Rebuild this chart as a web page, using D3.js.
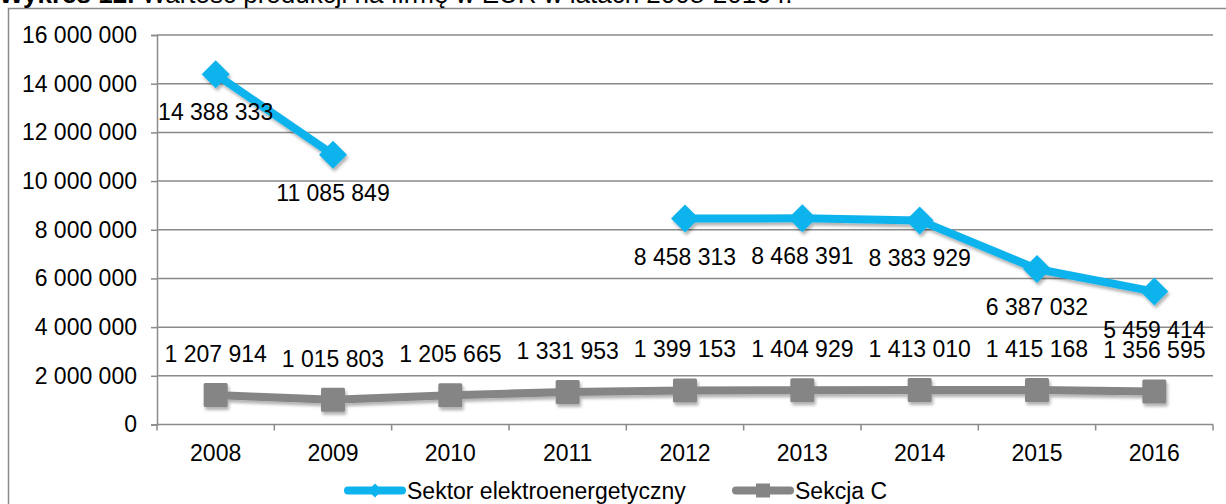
<!DOCTYPE html>
<html>
<head>
<meta charset="utf-8">
<script src="https://cdn.jsdelivr.net/npm/d3@7"></script>
<style>
  html, body { margin: 0; padding: 0; background: #fff; }
  svg { display: block; font-family: "Liberation Sans", Arial, sans-serif; }
</style>
</head>
<body>
<svg id="chart" width="1226" height="504"></svg>
<script>
// Production value per company (EUR), 2008–2016
const years = ["2008", "2009", "2010", "2011", "2012", "2013", "2014", "2015", "2016"];
const sektorValues = [14388333, 11085849, null, null, 8458313, 8468391, 8383929, 6387032, 5459414];
const sekcjaValues = [1207914, 1015803, 1205665, 1331953, 1399153, 1404929, 1413010, 1415168, 1356595];
const yTicks = [0, 2000000, 4000000, 6000000, 8000000, 10000000, 12000000, 14000000, 16000000];
const seriesNames = ["Sektor elektroenergetyczny", "Sekcja C"];

const BLUE = "#0db3ec";
const GREY = "#858585";
const GRID = "#8a8a8a";
const FONT = 23;

const svg = d3.select("#chart");

// soft shadow for lines and markers
const defs = svg.append("defs");
const f = defs.append("filter").attr("id", "shadow")
  .attr("x", "-20%").attr("y", "-20%").attr("width", "140%").attr("height", "160%");
f.append("feDropShadow").attr("dx", 1.5).attr("dy", 3).attr("stdDeviation", 1.8)
  .attr("flood-color", "#000").attr("flood-opacity", 0.3);

// outer frame
svg.append("rect").attr("x", 8.5).attr("y", 8.5).attr("width", 1240).attr("height", 520)
  .attr("fill", "none").attr("stroke", GRID).attr("stroke-width", 1.5);

// title (upper part sits above the canvas)
const title = svg.append("text").attr("x", -1).attr("y", 3)
  .attr("font-size", 26).attr("fill", "#000");
title.append("tspan").attr("font-weight", "bold").text("Wykres 12. ");
title.append("tspan").text("Wartość produkcji na firmę w EUR w latach 2008-2016 r.");

const plot = { left: 157, right: 1213, top: 35, bottom: 424.5 };

const x = d3.scaleBand().domain(years).range([plot.left, plot.right]).padding(0);
const y = d3.scaleLinear().domain([0, 16000000]).range([plot.bottom, plot.top]);
const cx = d => x(d) + x.bandwidth() / 2;
const fmt = v => d3.format(",")(v).replace(/,/g, " ");

// gridlines
svg.append("g").selectAll("line").data(yTicks.filter(t => t > 0)).join("line")
  .attr("x1", plot.left).attr("x2", plot.right)
  .attr("y1", d => y(d)).attr("y2", d => y(d))
  .attr("stroke", GRID).attr("stroke-width", 1.5);

// y axis
const yAxis = svg.append("g").attr("transform", `translate(${plot.left},0)`)
  .call(d3.axisLeft(y).tickValues(yTicks).tickSize(6).tickPadding(14).tickFormat(fmt));
yAxis.select(".domain").attr("stroke", GRID).attr("stroke-width", 1.5);
yAxis.selectAll(".tick line").attr("stroke", GRID).attr("stroke-width", 1.5);
yAxis.selectAll(".tick text").attr("font-size", FONT).attr("fill", "#000")
  .attr("font-family", "Liberation Sans, Arial, sans-serif");

// x axis with ticks at category boundaries
const bounds = years.map(d => x(d)).concat([plot.right]);
svg.append("line").attr("x1", plot.left).attr("x2", plot.right)
  .attr("y1", plot.bottom).attr("y2", plot.bottom)
  .attr("stroke", GRID).attr("stroke-width", 1.5);
svg.append("g").selectAll("line").data(bounds).join("line")
  .attr("x1", d => d).attr("x2", d => d)
  .attr("y1", plot.bottom).attr("y2", plot.bottom + 6)
  .attr("stroke", GRID).attr("stroke-width", 1.5);
svg.append("g").selectAll("text").data(years).join("text")
  .attr("x", d => cx(d)).attr("y", 461)
  .attr("text-anchor", "middle").attr("font-size", FONT).text(d => d);

// lines
const lineGen = d3.line()
  .defined(d => d.v != null)
  .x(d => cx(d.year)).y(d => y(d.v));

const sektor = years.map((year, i) => ({ year, v: sektorValues[i] }));
const sekcja = years.map((year, i) => ({ year, v: sekcjaValues[i] }));

const gSekcja = svg.append("g").attr("filter", "url(#shadow)");
gSekcja.append("path").attr("d", lineGen(sekcja))
  .attr("fill", "none").attr("stroke", GREY).attr("stroke-width", 8)
  .attr("stroke-linejoin", "round");
gSekcja.selectAll("rect").data(sekcja).join("rect")
  .attr("x", d => cx(d.year) - 12).attr("y", d => y(d.v) - 12)
  .attr("width", 24).attr("height", 24).attr("rx", 1.5)
  .attr("fill", GREY);

const gSektor = svg.append("g").attr("filter", "url(#shadow)");
gSektor.append("path").attr("d", lineGen(sektor))
  .attr("fill", "none").attr("stroke", BLUE).attr("stroke-width", 8)
  .attr("stroke-linejoin", "round");
gSektor.selectAll("path.m").data(sektor.filter(d => d.v != null)).join("path")
  .attr("class", "m")
  .attr("d", d => {
    const px = cx(d.year), py = y(d.v), r = 14;
    return `M${px},${py - r}L${px + r},${py}L${px},${py + r}L${px - r},${py}Z`;
  })
  .attr("fill", BLUE);

// data labels
svg.append("g").selectAll("text").data(sekcja).join("text")
  .attr("x", d => cx(d.year)).attr("y", d => y(d.v) - 33)
  .attr("text-anchor", "middle").attr("font-size", FONT).text(d => fmt(d.v));

svg.append("g").selectAll("text").data(sektor.filter(d => d.v != null)).join("text")
  .attr("x", d => cx(d.year)).attr("y", d => y(d.v) + 46)
  .attr("text-anchor", "middle").attr("font-size", FONT).text(d => fmt(d.v));

// legend
const legend = svg.append("g");
const legendItems = [
  { name: seriesNames[0], color: BLUE, x: 345, shape: "diamond" },
  { name: seriesNames[1], color: GREY, x: 733, shape: "square" }
];
legendItems.forEach(it => {
  const ly = 490.5;
  legend.append("line").attr("x1", it.x + 3).attr("x2", it.x + 57)
    .attr("y1", ly).attr("y2", ly)
    .attr("stroke", it.color).attr("stroke-width", 8).attr("stroke-linecap", "round");
  if (it.shape === "diamond") {
    const r = 7, px = it.x + 30;
    legend.append("path").attr("d", `M${px},${ly - r}L${px + r},${ly}L${px},${ly + r}L${px - r},${ly}Z`)
      .attr("fill", it.color);
  } else {
    legend.append("rect").attr("x", it.x + 23).attr("y", ly - 7).attr("width", 14).attr("height", 14)
      .attr("fill", it.color);
  }
  legend.append("text").attr("x", it.x + 62).attr("y", ly + 8)
    .attr("font-size", FONT).text(it.name);
});
</script>
</body>
</html>
